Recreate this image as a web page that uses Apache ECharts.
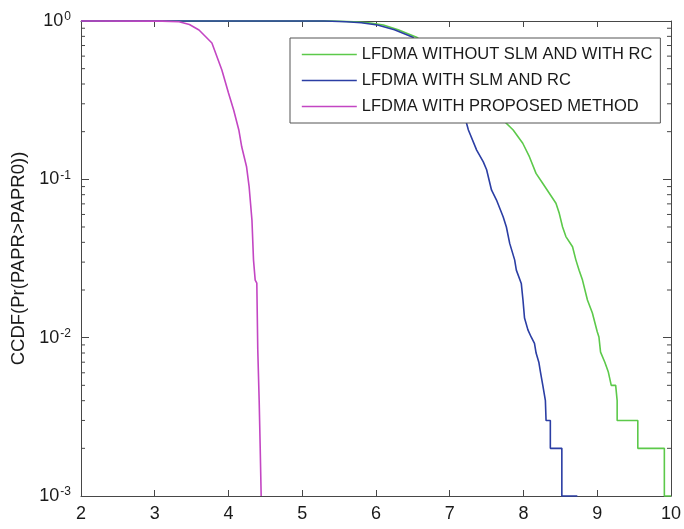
<!DOCTYPE html>
<html>
<head>
<meta charset="utf-8">
<script src="https://cdn.jsdelivr.net/npm/echarts@6/dist/echarts.min.js"></script>
<style>
  html, body { margin: 0; padding: 0; background: #fff; }
  #chart { width: 684px; height: 529px; }
</style>
</head>
<body>
<div id="chart"></div>
<script>
// CCDF of PAPR for three LFDMA configurations, points as [PAPR0 (dB), Pr(PAPR > PAPR0)]
const seriesNames = [
  'LFDMA WITHOUT SLM AND WITH RC',
  'LFDMA WITH SLM AND RC',
  'LFDMA WITH PROPOSED METHOD'
];

const withoutSlmRc = [
  [2, 1], [5.4, 1], [5.7, 0.99], [5.9, 0.975], [6.1, 0.944], [6.3, 0.88], [6.55, 0.79],
  [6.9, 0.6], [7.2, 0.45], [7.45, 0.33], [7.63, 0.261], [7.86, 0.205], [7.99, 0.169],
  [8.08, 0.139], [8.17, 0.109], [8.26, 0.0944], [8.35, 0.0816], [8.44, 0.0706],
  [8.485, 0.061], [8.53, 0.05], [8.575, 0.0435], [8.665, 0.0375], [8.71, 0.031],
  [8.754, 0.0267], [8.8, 0.0231], [8.867, 0.0173], [8.934, 0.0143], [9.0, 0.0109],
  [9.023, 0.0101], [9.045, 0.0081], [9.103, 0.007], [9.149, 0.0061], [9.19, 0.005],
  [9.25, 0.005], [9.27, 0.004], [9.27, 0.003], [9.55, 0.003], [9.55, 0.002],
  [9.91, 0.002], [9.91, 0.001], [10, 0.001]
];

const withSlmRc = [
  [2, 1], [5.3, 1], [5.6, 0.99], [5.8, 0.975], [6.02, 0.944], [6.25, 0.88], [6.5, 0.79],
  [6.8, 0.56], [7.0, 0.4], [7.19, 0.262], [7.253, 0.205], [7.365, 0.153], [7.455, 0.129],
  [7.5, 0.115], [7.566, 0.0857], [7.634, 0.074], [7.724, 0.058], [7.768, 0.05],
  [7.813, 0.0394], [7.88, 0.031], [7.903, 0.0267], [7.97, 0.022], [7.993, 0.0173],
  [8.014, 0.0133], [8.06, 0.0112], [8.104, 0.0101], [8.149, 0.0092], [8.171, 0.008],
  [8.208, 0.007], [8.229, 0.0061], [8.262, 0.005], [8.297, 0.004], [8.306, 0.003],
  [8.364, 0.003], [8.364, 0.002], [8.52, 0.002], [8.52, 0.001], [8.73, 0.001]
];

const proposed = [
  [2, 1], [3.1, 0.998], [3.33, 0.99], [3.47, 0.95], [3.6, 0.877], [3.775, 0.726], [3.91, 0.49],
  [4.0, 0.351], [4.07, 0.274], [4.14, 0.205], [4.18, 0.16], [4.245, 0.12], [4.28, 0.0895],
  [4.295, 0.074], [4.318, 0.0553], [4.339, 0.031], [4.362, 0.0231], [4.384, 0.0221],
  [4.397, 0.0084], [4.416, 0.004], [4.43, 0.002], [4.443, 0.001]
];

const xTicks = [2, 3, 4, 5, 6, 7, 8, 9, 10];
// minor ticks of the log axis (2..9 in every decade)
const minorTickValues = [
  0.002, 0.003, 0.004, 0.005, 0.006, 0.007, 0.008, 0.009,
  0.02, 0.03, 0.04, 0.05, 0.06, 0.07, 0.08, 0.09,
  0.2, 0.3, 0.4, 0.5, 0.6, 0.7, 0.8, 0.9
];

const colors = ['#5cc94a', '#2b3ea4', '#c346c3'];
const axisColor = '#474747';
const textColor = '#1a1a1a';
const FONT = '"Liberation Sans", Arial, sans-serif';

const chart = echarts.init(document.getElementById('chart'), null, { renderer: 'canvas' });

const xAxisBase = {
  type: 'value', min: xTicks[0], max: xTicks[xTicks.length - 1], interval: 1,
  axisLine: { show: true, onZero: false, lineStyle: { color: axisColor, width: 1 } },
  axisTick: { show: true, inside: true, length: 6, lineStyle: { color: axisColor } },
  splitLine: { show: false }
};
const yAxisBase = {
  type: 'log', logBase: 10, min: 0.001, max: 1, splitNumber: 3,
  axisLine: { show: true, onZero: false, lineStyle: { color: axisColor, width: 1 } },
  axisTick: { show: true, inside: true, length: 8, lineStyle: { color: axisColor } },
  splitLine: { show: false }
};

function lineSeries(name, data, color) {
  return {
    name, type: 'line', data, symbol: 'none', showSymbol: false, clip: false,
    xAxisIndex: 0, yAxisIndex: 0,
    lineStyle: { color, width: 1.6 }, itemStyle: { color },
    emphasis: { disabled: true }, animation: false
  };
}

chart.setOption({
  animation: false,
  textStyle: { fontFamily: FONT },
  grid: { left: 81, top: 21, width: 595, height: 475, containLabel: false },
  xAxis: [
    Object.assign({}, xAxisBase, {
      position: 'bottom',
      axisLabel: { show: true, fontSize: 18, color: textColor, margin: 9, fontFamily: FONT }
    }),
    Object.assign({}, xAxisBase, { position: 'top', axisLabel: { show: false } })
  ],
  yAxis: [
    Object.assign({}, yAxisBase, {
      position: 'left',
      name: 'CCDF(Pr(PAPR>PAPR0))',
      nameLocation: 'middle', nameRotate: 90, nameGap: 52,
      nameTextStyle: { fontSize: 18.5, color: textColor, fontFamily: FONT },
      axisLabel: {
        show: true, margin: 10, color: textColor, fontFamily: FONT,
        formatter: v => '{b|10}{s|' + Math.round(Math.log10(v)) + '}',
        rich: {
          b: { fontSize: 18, color: textColor, fontFamily: FONT, lineHeight: 20 },
          s: { fontSize: 12, color: textColor, fontFamily: FONT, verticalAlign: 'top', lineHeight: 12, padding: [0, 0, 0, 1] }
        }
      }
    }),
    Object.assign({}, yAxisBase, { position: 'right', axisLabel: { show: false } })
  ],
  legend: {
    data: seriesNames,
    orient: 'vertical', left: 290, top: 38,
    itemWidth: 55, itemHeight: 14, itemGap: 9,
    padding: [8, 8, 8, 11],
    backgroundColor: '#ffffff', borderColor: '#555555', borderWidth: 1,
    itemStyle: { opacity: 0 },
    lineStyle: { width: 1.6 },
    textStyle: { fontSize: 16.5, color: textColor, fontFamily: FONT },
    selectedMode: false, z: 20
  },
  series: [
    lineSeries(seriesNames[0], withoutSlmRc, colors[0]),
    lineSeries(seriesNames[1], withSlmRc, colors[1]),
    lineSeries(seriesNames[2], proposed, colors[2]),
    {
      name: 'minorTicks', type: 'custom', silent: true, clip: false,
      xAxisIndex: 0, yAxisIndex: 0,
      data: minorTickValues.map(v => [xTicks[0], v]),
      encode: { x: 0, y: 1 },
      renderItem: (params, api) => {
        const v = api.value(1);
        const left = api.coord([xTicks[0], v]);
        const right = api.coord([xTicks[xTicks.length - 1], v]);
        const style = { stroke: axisColor, lineWidth: 1 };
        return {
          type: 'group',
          children: [
            { type: 'line', shape: { x1: left[0], y1: left[1], x2: left[0] + 4, y2: left[1] }, style },
            { type: 'line', shape: { x1: right[0], y1: right[1], x2: right[0] - 4, y2: right[1] }, style }
          ]
        };
      }
    }
  ]
});
</script>
</body>
</html>
